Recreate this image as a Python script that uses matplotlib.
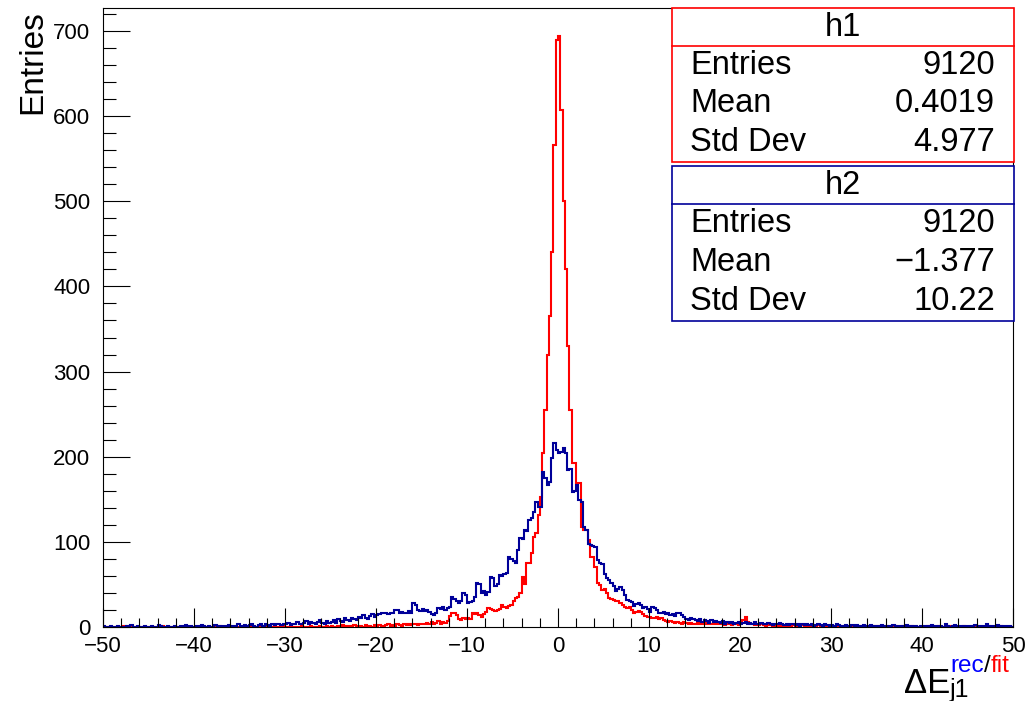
import matplotlib
matplotlib.use("Agg")
import matplotlib.pyplot as plt
import numpy as np
from matplotlib.ticker import MultipleLocator
from matplotlib.patches import Rectangle
from matplotlib.lines import Line2D

plt.rcParams['font.family'] = ['Liberation Sans', 'DejaVu Sans']

# 400 bins from -50 to 50 (width 0.25); each line covers 5 units
h1_counts = [
    0,0,0,0,0,0,0,0,0,1,0,0,0,0,0,0,0,0,0,0,
    0,0,0,0,0,0,1,0,0,0,0,0,0,0,0,0,0,0,0,0,
    0,0,0,0,0,0,0,0,0,0,0,1,0,0,0,0,0,0,0,0,
    0,0,0,0,1,0,0,0,0,0,0,0,0,1,0,0,0,0,0,1,
    0,0,1,0,0,0,0,1,0,0,0,1,0,0,0,1,0,0,1,0,
    1,0,0,1,0,2,0,1,1,0,2,1,0,1,0,2,1,1,0,2,
    1,2,1,0,2,3,1,2,1,3,2,1,4,2,3,2,4,3,2,4,
    4,3,5,4,6,3,5,7,4,6,5,7,13,17,16,14,9,8,10,9,
    11,9,16,15,16,14,12,15,18,22,21,20,19,20,21,26,24,22,25,26,
    30,34,35,40,59,51,75,75,87,106,110,132,153,204,255,320,365,440,566,689,
    694,607,500,420,330,255,193,193,169,169,118,114,114,102,82,82,71,52,49,43,
    45,40,34,33,32,30,31,28,26,24,22,23,20,17,18,19,18,15,13,12,
    12,11,10,12,9,10,8,7,6,7,6,5,6,5,4,6,5,4,5,4,
    4,5,3,4,5,3,4,3,5,4,3,4,3,2,4,3,2,3,4,2,
    5,8,12,6,3,4,2,3,2,3,2,1,2,3,1,2,1,2,1,1,
    2,1,1,2,1,0,1,2,1,1,0,1,1,0,2,1,0,1,1,0,
    1,0,1,0,1,1,0,0,1,0,1,0,0,1,0,0,1,0,0,1,
    0,1,0,0,1,0,0,0,1,0,0,1,0,0,0,1,0,0,0,0,
    0,0,1,0,0,0,0,1,0,0,0,0,1,0,0,0,0,0,1,0,
    0,0,0,1,0,0,0,0,0,1,0,0,0,0,1,0,0,0,0,0,
]

h2_counts = [
    1,0,0,1,0,0,1,0,0,0,1,0,2,0,0,1,0,0,1,0,
    0,1,0,0,2,1,0,0,1,0,0,1,0,0,1,0,2,0,1,0,
    0,1,0,2,1,0,1,0,0,2,1,0,1,1,0,2,1,0,1,3,
    1,0,2,1,2,3,1,0,2,3,1,4,2,1,3,2,4,3,2,4,
    3,5,2,4,3,6,4,3,5,7,4,6,5,3,6,8,5,4,7,5,
    6,8,5,9,7,6,10,8,7,11,9,8,12,10,14,11,9,13,15,12,
    14,15,17,16,16,15,17,16,20,20,17,18,16,17,19,17,28,26,20,19,
    21,19,20,18,15,14,16,22,21,23,20,22,24,35,33,30,28,31,40,38,
    28,29,30,35,52,50,40,42,38,41,59,57,48,50,61,60,62,63,82,80,
    78,75,90,105,103,114,113,126,128,135,147,141,141,182,175,167,170,199,216,208,
    204,206,210,204,184,186,159,160,167,149,147,118,114,97,96,95,94,79,75,74,
    62,58,55,52,48,42,45,47,43,38,32,31,29,25,27,28,26,22,23,21,
    18,24,22,20,17,16,18,15,16,14,15,13,16,17,14,12,9,8,10,9,
    8,7,9,6,8,7,5,8,6,7,6,5,7,4,6,5,6,4,5,6,
    4,5,6,3,5,4,6,3,4,5,3,4,5,3,2,4,3,5,3,2,
    3,2,4,3,2,3,1,4,2,3,2,3,1,2,4,2,1,3,2,1,
    2,1,3,2,1,1,2,0,1,2,1,2,1,0,2,1,1,2,0,1,
    1,0,2,1,1,0,1,2,0,1,1,0,1,2,1,0,1,1,0,1,
    0,1,1,0,2,1,0,1,1,0,3,1,0,1,2,0,1,1,0,1,
    1,0,1,2,0,1,0,1,3,0,1,1,0,2,1,0,1,0,1,0,
]

stat_names = ["Entries", "Mean", "Std Dev"]
h1_stats = ["9120", "0.4019", "4.977"]
h2_stats = ["9120", "\u22121.377", "10.22"]

W, H = 1026, 701
fig = plt.figure(figsize=(W / 100, H / 100), dpi=100)
ax = fig.add_axes([103 / W, 1 - 627 / H, 910 / W, 619 / H])

edges = np.linspace(-50, 50, len(h1_counts) + 1)
ax.stairs(h1_counts, edges, color='#ff0000', lw=1.5)
ax.stairs(h2_counts, edges, color='#000099', lw=1.5)

ax.set_xlim(-50, 50)
ax.set_ylim(0, 727)
ax.xaxis.set_major_locator(MultipleLocator(10))
ax.xaxis.set_minor_locator(MultipleLocator(2))
ax.yaxis.set_major_locator(MultipleLocator(100))
ax.yaxis.set_minor_locator(MultipleLocator(20))
ax.tick_params(which='both', direction='in', top=False, right=False, width=0.8, labelsize=16)
ax.tick_params(axis='x', which='major', length=13.4, pad=6.5)
ax.tick_params(axis='x', which='minor', length=6.7)
ax.tick_params(axis='y', which='major', length=19.5, pad=9)
ax.tick_params(axis='y', which='minor', length=9.7)
for s in ax.spines.values():
    s.set_linewidth(0.8)


def fx(px):
    return px / W


def fy(py):
    return 1 - py / H


# y axis title (top aligned, ROOT style)
fig.text(fx(33), fy(10), "Entries", rotation=90, ha='center', va='top', fontsize=24)

# x axis title: Delta E_j1^{rec/fit}
fig.text(fx(904), fy(693), "\u0394E", ha='left', va='baseline', fontsize=25)
fig.text(fx(950), fy(697), "j1", ha='left', va='baseline', fontsize=18)
sup_y = fy(672)
t1 = fig.text(fx(950), sup_y, "rec", ha='left', va='baseline', fontsize=17.5, color='#0000ff')
fig.canvas.draw()
r = fig.canvas.get_renderer()
bb = t1.get_window_extent(r)
t2 = fig.text(bb.x1 / W, sup_y, "/", ha='left', va='baseline', fontsize=17.5, color='black')
bb2 = t2.get_window_extent(r)
fig.text(bb2.x1 / W, sup_y, "fit", ha='left', va='baseline', fontsize=17.5, color='#ff0000')


def stats_box(top, bottom, sep, title, values, color):
    x0, x1 = 672, 1014
    fig.patches.append(Rectangle((fx(x0), fy(bottom)), fx(x1) - fx(x0), fy(top) - fy(bottom),
                                 transform=fig.transFigure, facecolor='white', edgecolor=color,
                                 lw=1.2, zorder=5))
    fig.lines.append(Line2D([fx(x0), fx(x1)], [fy(sep), fy(sep)], transform=fig.transFigure,
                            color=color, lw=1.2, zorder=6))
    fig.text(fx((x0 + x1) / 2), fy((top + sep) / 2), title, ha='center', va='center',
             fontsize=23.5, zorder=7)
    row_h = (bottom - sep) / 3
    for i, (name, val) in enumerate(zip(stat_names, values)):
        yc = sep + row_h * (i + 0.5)
        fig.text(fx(690), fy(yc), name, ha='left', va='center', fontsize=23.5, zorder=7)
        fig.text(fx(995), fy(yc), val, ha='right', va='center', fontsize=23.5, zorder=7)


stats_box(8, 162, 46, "h1", h1_stats, '#ff0000')
stats_box(166, 321, 204, "h2", h2_stats, '#000099')

fig.savefig("out.png", dpi=100)
